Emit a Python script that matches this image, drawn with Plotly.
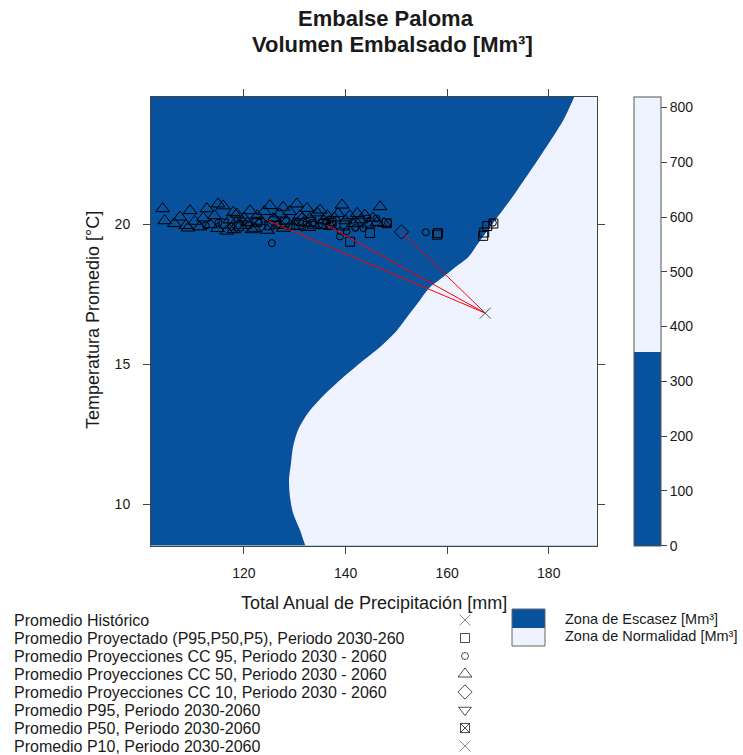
import plotly.graph_objects as go

W, H = 743, 755

# Boundary between the scarcity zone (left) and the normal zone (right)
boundary_prec = [132.65, 132.02, 131.03, 129.66, 129.06, 128.87, 129.26, 129.66, 130.64,
                 132.61, 135.37, 138.92, 142.86, 146.80, 150.15, 152.71, 154.68, 156.65,
                 159.21, 161.58, 164.14, 166.11, 169.06, 173.79, 182.86, 185.02, 185.96]
boundary_temp = [8.20, 8.54, 9.07, 9.68, 10.25, 10.86, 11.46, 12.04, 12.64,
                 13.25, 13.82, 14.43, 15.04, 15.61, 16.21, 16.82, 17.29, 17.75,
                 18.11, 18.46, 18.82, 19.32, 20.04, 21.21, 23.71, 24.54, 24.90]

# Historical average
hist_prec = [167.5]
hist_temp = [16.82]

# Projected averages (P95, P50, P5), 2030-2060
proj_prec = [116.0, 119.0, 122.5, 125.0, 128.0, 130.8, 133.2, 135.5, 137.2, 139.8,
             140.9, 144.8, 148.1, 158.2, 158.0, 167.1, 167.3, 167.9, 169.1]
proj_temp = [20.02, 19.92, 20.08, 19.96, 20.06, 19.98, 20.08, 20.00, 20.10, 19.95,
             19.37, 19.68, 20.03, 19.68, 19.62, 19.58, 19.70, 19.93, 20.02]

# Climate-change projections CC 95
cc95_prec = [112.5, 115.0, 117.5, 119.8, 121.0, 123.0, 125.5, 126.8, 128.8, 130.2,
             131.5, 133.5, 134.8, 136.2, 137.5, 138.9, 140.2, 141.9, 143.5, 144.2,
             146.1, 139.0, 155.8, 169.0, 148.4]
cc95_temp = [19.95, 20.05, 19.90, 20.10, 19.95, 20.05, 19.32, 20.00, 19.92, 20.10,
             19.88, 20.05, 19.95, 20.10, 19.98, 19.56, 19.74, 19.86, 19.86, 20.20,
             20.20, 19.75, 19.71, 20.05, 20.04]

# Climate-change projections CC 50
cc50_prec = [104.0, 104.4, 106.3, 107.4, 108.6, 109.4, 110.3, 111.3, 112.0, 112.7,
             113.4, 114.2, 114.9, 115.9, 116.6, 117.2, 117.9, 118.6, 119.3, 120.0,
             120.7, 121.2, 122.0, 122.6, 123.4, 124.0, 124.6, 125.1, 125.8, 126.5,
             127.0, 127.7, 128.4, 129.0, 129.7, 130.4, 131.0, 131.7, 132.4, 133.0,
             133.8, 134.4, 135.0, 135.7, 136.4, 137.0, 137.8, 138.5, 139.3, 140.0,
             140.8, 141.5, 142.3, 143.0, 143.8, 144.5, 145.4, 146.2, 146.8, 147.6,
             109.0, 114.8, 118.0, 121.6, 127.8, 132.8]
cc50_temp = [20.55, 20.12, 20.02, 20.25, 19.95, 20.48, 20.10, 19.90, 20.22, 20.55,
             19.98, 20.30, 20.72, 20.65, 19.75, 20.15, 20.42, 20.36, 19.95, 20.22,
             20.05, 20.48, 19.85, 20.30, 20.10, 20.45, 19.78, 20.66, 20.20, 19.95,
             20.36, 20.60, 20.10, 20.45, 19.92, 20.72, 20.30, 20.05, 20.56, 20.20,
             19.96, 20.40, 20.50, 20.12, 20.30, 19.92, 20.22, 20.38, 20.68, 20.12,
             20.30, 20.02, 20.38, 20.15, 20.32, 20.00, 20.22, 20.06, 20.62, 20.02,
             19.86, 19.84, 19.80, 19.80, 19.85, 19.88]

# Climate-change projections CC 10
cc10_prec = [151.0, 118.5, 126.0, 131.5, 136.8, 142.0]
cc10_temp = [19.72, 20.00, 20.12, 20.15, 20.05, 20.00]

# Percentile averages P95, P50, P10 (2030-2060), linked to the historical average
pct_prec = [124.5, 136.3, 151.0]
pct_temp = [20.14, 19.96, 19.72]

x_range = [101.7, 189.5]
y_range = [8.52, 24.55]
x_ticks = [120, 140, 160, 180]
y_ticks = [10, 15, 20]
cbar_ticks = [0, 100, 200, 300, 400, 500, 600, 700, 800]
vol_max = 820
vol_threshold = 355

legend_labels = [
    "Promedio Histórico",
    "Promedio Proyectado (P95,P50,P5), Periodo 2030-260",
    "Promedio Proyecciones CC 95, Periodo 2030 - 2060",
    "Promedio Proyecciones CC 50, Periodo 2030 - 2060",
    "Promedio Proyecciones CC 10, Periodo 2030 - 2060",
    "Promedio P95, Periodo 2030-2060",
    "Promedio P50, Periodo 2030-2060",
    "Promedio P10, Periodo 2030-2060",
]
legend_symbols = ["x-thin-open", "square-open", "circle-open", "triangle-up-open",
                  "diamond-open", "triangle-down-open", "square-x-open", "x-thin-open"]
legend_sizes = [11, 9, 7, 12, 11, 11, 9, 11]
legend_colors = ["#555555", "#000000", "#000000", "#000000", "#000000", "#000000",
                 "#000000", "#555555"]
zone_labels = ["Zona de Escasez [Mm³]", "Zona de Normalidad [Mm³]"]

DARK = "#08519C"
LIGHT = "#EFF3FF"
FONT = "Liberation Sans, Arial, sans-serif"
TXT = "#1a1a1a"
AX = "#444444"

# plot area in pixels
PL, PR, PT, PB = 151, 597, 96.7, 545.5

fig = go.Figure()

# scarcity zone = whole panel
fig.add_trace(go.Scatter(
    x=[x_range[0] - 5, x_range[1] + 5, x_range[1] + 5, x_range[0] - 5, x_range[0] - 5],
    y=[y_range[0] - 1, y_range[0] - 1, y_range[1] + 1, y_range[1] + 1, y_range[0] - 1],
    mode="lines", fill="toself", fillcolor=DARK, line=dict(width=0),
    hoverinfo="skip"))

# normal zone = right of the (smoothed) boundary
fig.add_trace(go.Scatter(
    x=boundary_prec + [x_range[1] + 10, x_range[1] + 10],
    y=boundary_temp + [boundary_temp[-1], boundary_temp[0]],
    mode="lines", fill="toself", fillcolor=LIGHT,
    line=dict(width=0, color=LIGHT, shape="spline", smoothing=0.8),
    hoverinfo="skip"))

def pts(x, y, symbol, size, color="#000000"):
    fig.add_trace(go.Scatter(
        x=x, y=y, mode="markers",
        marker=dict(symbol=symbol, size=size, color=color, line=dict(width=1, color=color))))

pts(cc50_prec, cc50_temp, "triangle-up-open", 12)
pts(cc95_prec, cc95_temp, "circle-open", 7)
pts(proj_prec, proj_temp, "square-open", 9)
pts(cc10_prec, cc10_temp, "diamond-open", 11)

# links from the historical average to the percentile averages
lx, ly = [], []
for px_, py_ in zip(pct_prec, pct_temp):
    lx += [hist_prec[0], px_, None]
    ly += [hist_temp[0], py_, None]
fig.add_trace(go.Scatter(x=lx, y=ly, mode="lines", line=dict(color="#FF0000", width=1)))

pts(hist_prec, hist_temp, "x-thin-open", 11, "#555555")

# colour key (hidden point carries the colour bar)
t = vol_threshold / vol_max
fig.add_trace(go.Scatter(
    x=[-100], y=[-100], mode="markers", xaxis="x2", yaxis="y2",
    marker=dict(size=1, color=[0], cmin=0, cmax=vol_max, opacity=0,
                colorscale=[[0, DARK], [t, DARK], [t, LIGHT], [1, LIGHT]],
                showscale=True,
                colorbar=dict(x=634 / W, xanchor="left", xpad=0,
                              y=1 - (PT + PB) / 2 / H, yanchor="middle", ypad=0,
                              len=PB - PT, lenmode="pixels", thickness=27,
                              outlinewidth=1, outlinecolor="#555555",
                              tickvals=cbar_ticks, ticks="outside", ticklen=6,
                              tickcolor=AX, tickfont=dict(size=14, color=TXT, family=FONT)))))

# bottom key symbols
row_y = [620 + 18 * i for i in range(len(legend_labels))]
fig.add_trace(go.Scatter(
    x=[465] * len(row_y), y=row_y, mode="markers", xaxis="x2", yaxis="y2",
    cliponaxis=False,
    marker=dict(symbol=legend_symbols, size=legend_sizes, color=legend_colors,
                line=dict(width=1, color=legend_colors))))

annotations = [
    dict(text="<b>Embalse Paloma</b>", x=386 / W, y=1 - 18 / H, font=dict(size=22)),
    dict(text="<b>Volumen Embalsado [Mm³]</b>", x=392 / W, y=1 - 44 / H, font=dict(size=22)),
    dict(text="Total Anual de Precipitación [mm]", x=374 / W, y=1 - 603 / H, font=dict(size=18)),
    dict(text="Temperatura Promedio [°C]", x=93 / W, y=1 - 320 / H, textangle=-90,
         font=dict(size=18)),
]
for lab, yy in zip(legend_labels, row_y):
    annotations.append(dict(text=lab, x=12 / W, y=1 - yy / H, xanchor="left",
                            font=dict(size=16)))
for i, lab in enumerate(zone_labels):
    annotations.append(dict(text=lab, x=563 / W, y=1 - (619 + 17 * i) / H, xanchor="left",
                            font=dict(size=14.5)))
for a in annotations:
    a.setdefault("xanchor", "center")
    a["yanchor"] = "middle"
    a["xref"] = "paper"
    a["yref"] = "paper"
    a["showarrow"] = False
    a["font"].update(family=FONT, color=TXT)

shapes = [
    dict(type="rect", xref="paper", yref="paper", x0=512 / W, x1=545 / W,
         y0=1 - 628 / H, y1=1 - 609 / H, fillcolor=DARK, line=dict(width=0)),
    dict(type="rect", xref="paper", yref="paper", x0=512 / W, x1=545 / W,
         y0=1 - 646 / H, y1=1 - 628 / H, fillcolor=LIGHT, line=dict(width=0)),
    dict(type="rect", xref="paper", yref="paper", x0=512 / W, x1=545 / W,
         y0=1 - 646 / H, y1=1 - 609 / H, line=dict(width=1, color="#666666")),
]

axis_common = dict(showgrid=False, zeroline=False, showline=True, linecolor=AX, linewidth=1,
                   mirror="allticks", ticks="outside", ticklen=7, tickcolor=AX,
                   tickfont=dict(size=14, color=TXT, family=FONT))

fig.update_layout(
    width=W, height=H,
    margin=dict(l=0, r=0, t=0, b=0, autoexpand=False),
    paper_bgcolor="white", plot_bgcolor="rgba(0,0,0,0)",
    showlegend=False,
    font=dict(family=FONT, color=TXT),
    xaxis=dict(domain=[PL / W, PR / W], range=x_range, tickvals=x_ticks,
               ticklabelstandoff=8, anchor="y", **axis_common),
    yaxis=dict(domain=[1 - PB / H, 1 - PT / H], range=y_range, tickvals=y_ticks,
               ticklabelstandoff=10, anchor="x", **axis_common),
    xaxis2=dict(domain=[0, 1], range=[0, W], visible=False, anchor="y2", fixedrange=True),
    yaxis2=dict(domain=[0, 1], range=[H, 0], visible=False, anchor="x2", fixedrange=True),
    annotations=annotations,
    shapes=shapes,
)

fig.write_html("out.html")
